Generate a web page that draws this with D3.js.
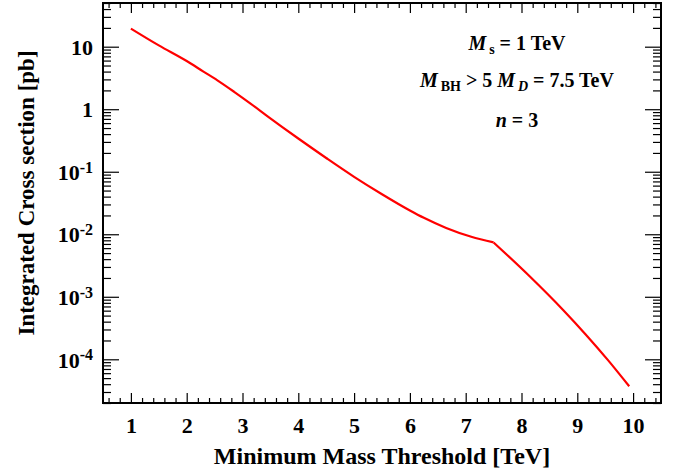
<!DOCTYPE html>
<html>
<head>
<meta charset="utf-8">
<script src="https://cdn.jsdelivr.net/npm/d3@7"></script>
<style>
  body { margin: 0; background: #fff; }
  svg text { font-family: "Liberation Serif", "Times New Roman", serif; font-weight: bold; }
</style>
</head>
<body>
<div id="chart"></div>
<script>
// curve (x in TeV, sigma in pb)
var massThreshold = [1.0, 1.5, 2.0, 2.3, 2.55, 2.85, 3.15, 3.45, 4.0, 4.5, 5.0, 5.5, 6.0, 6.25, 6.65, 7.1, 7.5, 8.15, 8.75, 9.15, 9.55, 9.93];
var crossSection = [19.5, 10.5, 5.9, 4.0, 2.9, 1.9, 1.22, 0.77, 0.34, 0.166, 0.083, 0.0437, 0.024, 0.0183, 0.0126, 0.0091, 0.0074, 0.00211, 6.1e-4, 2.5e-4, 9.7e-5, 3.7e-5];
var kinkMass = 7.5;   // M_BH cut, the curve bends sharply here

var xMajor = [1, 2, 3, 4, 5, 6, 7, 8, 9, 10];
var yMajor = [10, 1, 0.1, 0.01, 0.001, 0.0001];
var yLabels = ['10', '1', '10|-1', '10|-2', '10|-3', '10|-4'];

var width = 677, height = 472;
var margin = {left: 103, right: 16, top: 3, bottom: 69};

var svg = d3.select('#chart')
    .append('svg')
    .attr('width', width)
    .attr('height', height);

var x = d3.scaleLinear().domain([0.5, 10.5]).range([margin.left, width - margin.right]);
var y = d3.scaleLog().domain([2e-5, 50]).range([height - margin.bottom, margin.top]);

// minor ticks
var xMinor = d3.range(0.6, 10.45, 0.2).filter(function(v){ return Math.abs(v - Math.round(v)) > 0.01; });
var yMinor = [];
[-5, -4, -3, -2, -1, 0, 1].forEach(function(e){
    for (var m = 2; m <= 9; m++) {
        var v = m * Math.pow(10, e);
        if (v >= 2e-5 && v <= 50) yMinor.push(v);
    }
});

function styleTicks(g) {
    g.select('.domain').remove();
    g.selectAll('line').attr('stroke', '#000').attr('stroke-width', 1.2);
}

var x0 = x.range()[0], x1 = x.range()[1], y0 = y.range()[0], y1 = y.range()[1];

// bottom axis
svg.append('g').attr('transform', 'translate(0,' + y0 + ')')
    .call(d3.axisBottom(x).tickValues(xMinor).tickSize(-5).tickFormat(''))
    .call(styleTicks);
var xb = svg.append('g').attr('transform', 'translate(0,' + y0 + ')')
    .call(d3.axisBottom(x).tickValues(xMajor).tickSize(-10).tickPadding(14).tickFormat(d3.format('d')))
    .call(styleTicks);
xb.selectAll('text').attr('font-size', 22).attr('fill', '#000')
    .style('font-family', '"Liberation Serif", serif').style('font-weight', 'bold');

// top axis
svg.append('g').attr('transform', 'translate(0,' + y1 + ')')
    .call(d3.axisTop(x).tickValues(xMinor).tickSize(-5).tickFormat(''))
    .call(styleTicks);
svg.append('g').attr('transform', 'translate(0,' + y1 + ')')
    .call(d3.axisTop(x).tickValues(xMajor).tickSize(-10).tickFormat(''))
    .call(styleTicks);

// left axis
svg.append('g').attr('transform', 'translate(' + x0 + ',0)')
    .call(d3.axisLeft(y).tickValues(yMinor).tickSize(-8).tickFormat(''))
    .call(styleTicks);
var yl = svg.append('g').attr('transform', 'translate(' + x0 + ',0)')
    .call(d3.axisLeft(y).tickValues(yMajor).tickSize(-16).tickPadding(10).tickFormat(function(d, i){ return yLabels[i]; }))
    .call(styleTicks);
yl.selectAll('text').each(function(d, i){
    var t = d3.select(this);
    var parts = yLabels[i].split('|');
    t.text(null).attr('font-size', 22).attr('fill', '#000').attr('dy', '0.35em')
        .style('font-family', '"Liberation Serif", serif').style('font-weight', 'bold');
    t.append('tspan').text(parts[0]);
    if (parts.length > 1) {
        t.append('tspan').attr('font-size', 16).attr('dy', '-0.45em').text(parts[1]);
    }
});

// right axis
svg.append('g').attr('transform', 'translate(' + x1 + ',0)')
    .call(d3.axisRight(y).tickValues(yMinor).tickSize(-8).tickFormat(''))
    .call(styleTicks);
svg.append('g').attr('transform', 'translate(' + x1 + ',0)')
    .call(d3.axisRight(y).tickValues(yMajor).tickSize(-16).tickFormat(''))
    .call(styleTicks);

// frame
svg.append('rect')
    .attr('x', x0).attr('y', y1)
    .attr('width', x1 - x0).attr('height', y0 - y1)
    .attr('fill', 'none').attr('stroke', '#000').attr('stroke-width', 2);

// curve, smooth on each side of the kink
var points = massThreshold.map(function(m, i){ return [m, crossSection[i]]; });
var segments = [
    points.filter(function(d){ return d[0] <= kinkMass; }),
    points.filter(function(d){ return d[0] >= kinkMass; })
];
var line = d3.line()
    .curve(d3.curveMonotoneX)
    .x(function(d){ return x(d[0]); })
    .y(function(d){ return y(d[1]); });
svg.selectAll('.curve')
    .data(segments)
    .enter()
    .append('path')
    .attr('class', 'curve')
    .attr('d', line)
    .attr('fill', 'none')
    .attr('stroke', '#ff0000')
    .attr('stroke-width', 2.2)
    .attr('stroke-linejoin', 'round');

// axis titles
svg.append('text')
    .attr('x', (x0 + x1) / 2).attr('y', 464)
    .attr('text-anchor', 'middle').attr('font-size', 24)
    .text('Minimum Mass Threshold [TeV]');
svg.append('text')
    .attr('transform', 'translate(34,' + ((y0 + y1) / 2 - 10) + ') rotate(-90)')
    .attr('text-anchor', 'middle').attr('font-size', 23)
    .text('Integrated Cross section [pb]');

// annotation
var cx = 517;
var t1 = svg.append('text').attr('x', cx).attr('y', 50).attr('text-anchor', 'middle').attr('font-size', 20);
t1.append('tspan').attr('font-style', 'italic').text('M');
t1.append('tspan').attr('font-size', 14).attr('dy', 4).text('\u2009s');
t1.append('tspan').attr('dy', -4).text(' = 1 TeV');

var t2 = svg.append('text').attr('x', cx).attr('y', 87).attr('text-anchor', 'middle').attr('font-size', 20);
t2.append('tspan').attr('font-style', 'italic').text('M');
t2.append('tspan').attr('font-size', 14).attr('dy', 4).text('\u2009BH');
t2.append('tspan').attr('dy', -4).text(' > 5 ');
t2.append('tspan').attr('font-style', 'italic').text('M');
t2.append('tspan').attr('font-size', 14).attr('font-style', 'italic').attr('dy', 4).text('\u2009D');
t2.append('tspan').attr('dy', -4).text(' = 7.5 TeV');

var t3 = svg.append('text').attr('x', cx).attr('y', 127).attr('text-anchor', 'middle').attr('font-size', 20);
t3.append('tspan').attr('font-style', 'italic').text('n');
t3.append('tspan').text(' = 3');
</script>
</body>
</html>
